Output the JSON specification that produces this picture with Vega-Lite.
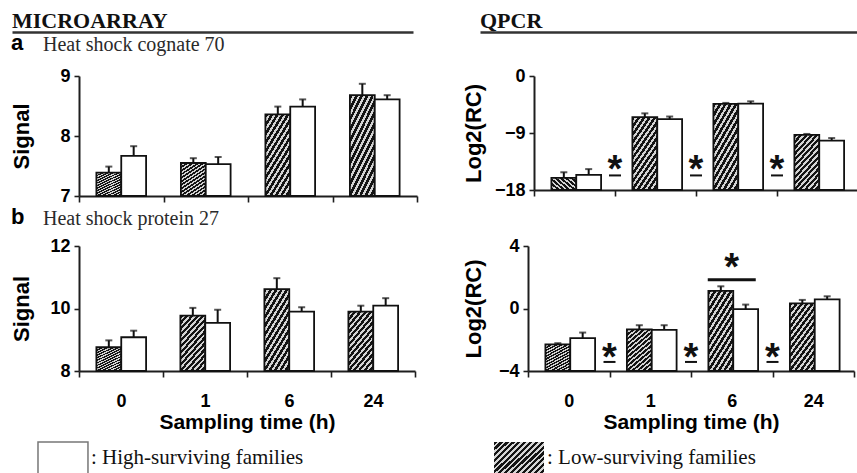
{
  "$schema": "https://vega.github.io/schema/vega-lite/v6.json",
  "padding": {"left": 10, "top": 9, "right": 0, "bottom": 0},
  "background": "white",
  "config": {
    "view": {"stroke": null},
    "axis": {
      "grid": false,
      "domainColor": "#1e1e1e",
      "domainWidth": 2,
      "tickColor": "#1e1e1e",
      "tickWidth": 1.6,
      "tickSize": 5,
      "labelFont": "Liberation Sans",
      "labelFontWeight": "bold",
      "labelFontSize": 18,
      "labelColor": "#000",
      "labelPadding": 4,
      "titleFont": "Liberation Sans",
      "titleFontWeight": "bold",
      "titleFontSize": 21,
      "titleColor": "#000"
    },
    "axisX": {"tickBand": "extent", "tickSize": 6, "labelAngle": 0, "labelPadding": 15, "titlePadding": 1},
    "axisY": {"format": "d", "titleFontSize": 22}
  },
  "datasets": {
    "bars": [
      {"panel": "A_arr", "time": "0", "group": "Low", "value": 7.39, "hi": 7.49},
      {"panel": "A_arr", "time": "0", "group": "High", "value": 7.67, "hi": 7.83},
      {"panel": "A_arr", "time": "1", "group": "Low", "value": 7.55, "hi": 7.63},
      {"panel": "A_arr", "time": "1", "group": "High", "value": 7.53, "hi": 7.65},
      {"panel": "A_arr", "time": "6", "group": "Low", "value": 8.36, "hi": 8.49},
      {"panel": "A_arr", "time": "6", "group": "High", "value": 8.49, "hi": 8.61},
      {"panel": "A_arr", "time": "24", "group": "Low", "value": 8.68, "hi": 8.87},
      {"panel": "A_arr", "time": "24", "group": "High", "value": 8.61, "hi": 8.68},
      {"panel": "A_pcr", "time": "0", "group": "Low", "value": -16.1, "hi": -15.2},
      {"panel": "A_pcr", "time": "0", "group": "High", "value": -15.6, "hi": -14.7},
      {"panel": "A_pcr", "time": "1", "group": "Low", "value": -6.5, "hi": -5.9},
      {"panel": "A_pcr", "time": "1", "group": "High", "value": -6.8, "hi": -6.4},
      {"panel": "A_pcr", "time": "6", "group": "Low", "value": -4.4, "hi": -4.25},
      {"panel": "A_pcr", "time": "6", "group": "High", "value": -4.35, "hi": -4.0},
      {"panel": "A_pcr", "time": "24", "group": "Low", "value": -9.3, "hi": -9.15},
      {"panel": "A_pcr", "time": "24", "group": "High", "value": -10.2, "hi": -9.8},
      {"panel": "B_arr", "time": "0", "group": "Low", "value": 8.76, "hi": 8.98},
      {"panel": "B_arr", "time": "0", "group": "High", "value": 9.08, "hi": 9.29},
      {"panel": "B_arr", "time": "1", "group": "Low", "value": 9.77, "hi": 10.02},
      {"panel": "B_arr", "time": "1", "group": "High", "value": 9.54, "hi": 9.96},
      {"panel": "B_arr", "time": "6", "group": "Low", "value": 10.62, "hi": 10.97},
      {"panel": "B_arr", "time": "6", "group": "High", "value": 9.9, "hi": 10.04},
      {"panel": "B_arr", "time": "24", "group": "Low", "value": 9.9, "hi": 10.09},
      {"panel": "B_arr", "time": "24", "group": "High", "value": 10.09, "hi": 10.33},
      {"panel": "B_pcr", "time": "0", "group": "Low", "value": -2.29, "hi": -2.22},
      {"panel": "B_pcr", "time": "0", "group": "High", "value": -1.9, "hi": -1.54},
      {"panel": "B_pcr", "time": "1", "group": "Low", "value": -1.33, "hi": -1.07},
      {"panel": "B_pcr", "time": "1", "group": "High", "value": -1.37, "hi": -1.07},
      {"panel": "B_pcr", "time": "6", "group": "Low", "value": 1.13, "hi": 1.42},
      {"panel": "B_pcr", "time": "6", "group": "High", "value": -0.04, "hi": 0.25},
      {"panel": "B_pcr", "time": "24", "group": "Low", "value": 0.33, "hi": 0.55},
      {"panel": "B_pcr", "time": "24", "group": "High", "value": 0.58, "hi": 0.78}
    ],
    "sig": [
      {"panel": "A_pcr", "time": "1", "kind": "between", "star": -13.4, "bar": -15.7},
      {"panel": "A_pcr", "time": "6", "kind": "between", "star": -13.4, "bar": -15.7},
      {"panel": "A_pcr", "time": "24", "kind": "between", "star": -13.4, "bar": -15.7},
      {"panel": "B_pcr", "time": "1", "kind": "between", "star": -2.6, "bar": -3.42},
      {"panel": "B_pcr", "time": "6", "kind": "between", "star": -2.6, "bar": -3.42},
      {"panel": "B_pcr", "time": "24", "kind": "between", "star": -2.6, "bar": -3.42},
      {"panel": "B_pcr", "time": "6", "kind": "over", "star": 3.16, "bar": 1.84}
    ],
    "legend": [
      {"group": "High", "label": ": High-surviving families"},
      {"group": "Low", "label": ": Low-surviving families"}
    ]
  },
  "columns": 1,
  "align": "none",
  "spacing": 9,
  "concat": [
    {
      "columns": 1,
      "align": "none",
      "spacing": 0,
      "concat": [
        {
          "spacing": -11,
          "hconcat": [
            {
              "width": 334,
              "height": 1,
              "data": {"values": [{"section": "MICROARRAY"}]},
              "mark": {"type": "text", "align": "left", "baseline": "alphabetic", "dy": -4, "font": "Liberation Serif", "fontWeight": "bold", "fontSize": 22, "color": "#111"},
              "encoding": {
                "x": {"field": "section", "type": "nominal", "bandPosition": 0, "scale": {"type": "band", "paddingInner": 0, "paddingOuter": 0, "range": [-67, 334]}, "axis": {"title": null, "labels": false, "ticks": false, "domainWidth": 2.5, "domainColor": "#333"}},
                "text": {"field": "section"}
              }
            },
            {
              "width": 387,
              "height": 1,
              "data": {"values": [{"section": "QPCR"}]},
              "mark": {"type": "text", "align": "left", "baseline": "alphabetic", "dy": -4, "font": "Liberation Serif", "fontWeight": "bold", "fontSize": 22, "color": "#111"},
              "encoding": {
                "x": {"field": "section", "type": "nominal", "bandPosition": 0, "scale": {"type": "band", "paddingInner": 0, "paddingOuter": 0}, "axis": {"title": null, "labels": false, "ticks": false, "domainWidth": 2.5, "domainColor": "#333"}},
                "text": {"field": "section"}
              }
            }
          ]
        },
        {
          "spacing": 44,
          "title": {"text": "a", "anchor": "start", "offset": -20.4, "font": "Liberation Sans", "fontWeight": "bold", "fontSize": 22, "color": "#000"},
          "hconcat": [
            {
              "width": 338,
              "height": 120,
              "title": {"text": "Heat shock cognate 70", "anchor": "start", "frame": "bounds", "dx": 32, "offset": 12, "font": "Liberation Serif", "fontWeight": "normal", "fontSize": 20, "color": "#2a2a2a"},
              "encoding": {
                "x": {"field": "time", "type": "nominal", "scale": {"domain": ["0", "1", "6", "24"], "paddingInner": 0, "paddingOuter": 0}, "axis": {"title": null, "labels": false}}
              },
              "layer": [
                {
                  "data": {"name": "bars"},
                  "transform": [{"filter": "datum.panel === 'A_arr' && datum.group === 'Low'"}],
                  "mark": {"type": "bar", "stroke": "#111", "strokeWidth": 1.8, "fill": {"gradient": "linear", "x1": 0, "y1": 0, "x2": 0.6, "y2": 1.2, "stops": [
                    {"offset": 0, "color": "#141414"}, {"offset": 0.0393, "color": "#141414"}, {"offset": 0.0393, "color": "#d4d4d4"}, {"offset": 0.0714, "color": "#d4d4d4"},
                    {"offset": 0.0714, "color": "#141414"}, {"offset": 0.1107, "color": "#141414"}, {"offset": 0.1107, "color": "#d4d4d4"}, {"offset": 0.1429, "color": "#d4d4d4"},
                    {"offset": 0.1429, "color": "#141414"}, {"offset": 0.1821, "color": "#141414"}, {"offset": 0.1821, "color": "#d4d4d4"}, {"offset": 0.2143, "color": "#d4d4d4"},
                    {"offset": 0.2143, "color": "#141414"}, {"offset": 0.2536, "color": "#141414"}, {"offset": 0.2536, "color": "#d4d4d4"}, {"offset": 0.2857, "color": "#d4d4d4"},
                    {"offset": 0.2857, "color": "#141414"}, {"offset": 0.325, "color": "#141414"}, {"offset": 0.325, "color": "#d4d4d4"}, {"offset": 0.3571, "color": "#d4d4d4"},
                    {"offset": 0.3571, "color": "#141414"}, {"offset": 0.3964, "color": "#141414"}, {"offset": 0.3964, "color": "#d4d4d4"}, {"offset": 0.4286, "color": "#d4d4d4"},
                    {"offset": 0.4286, "color": "#141414"}, {"offset": 0.4679, "color": "#141414"}, {"offset": 0.4679, "color": "#d4d4d4"}, {"offset": 0.5, "color": "#d4d4d4"},
                    {"offset": 0.5, "color": "#141414"}, {"offset": 0.5393, "color": "#141414"}, {"offset": 0.5393, "color": "#d4d4d4"}, {"offset": 0.5714, "color": "#d4d4d4"},
                    {"offset": 0.5714, "color": "#141414"}, {"offset": 0.6107, "color": "#141414"}, {"offset": 0.6107, "color": "#d4d4d4"}, {"offset": 0.6429, "color": "#d4d4d4"},
                    {"offset": 0.6429, "color": "#141414"}, {"offset": 0.6821, "color": "#141414"}, {"offset": 0.6821, "color": "#d4d4d4"}, {"offset": 0.7143, "color": "#d4d4d4"},
                    {"offset": 0.7143, "color": "#141414"}, {"offset": 0.7536, "color": "#141414"}, {"offset": 0.7536, "color": "#d4d4d4"}, {"offset": 0.7857, "color": "#d4d4d4"},
                    {"offset": 0.7857, "color": "#141414"}, {"offset": 0.825, "color": "#141414"}, {"offset": 0.825, "color": "#d4d4d4"}, {"offset": 0.8571, "color": "#d4d4d4"},
                    {"offset": 0.8571, "color": "#141414"}, {"offset": 0.8964, "color": "#141414"}, {"offset": 0.8964, "color": "#d4d4d4"}, {"offset": 0.9286, "color": "#d4d4d4"},
                    {"offset": 0.9286, "color": "#141414"}, {"offset": 0.9679, "color": "#141414"}, {"offset": 0.9679, "color": "#d4d4d4"}, {"offset": 1, "color": "#d4d4d4"}
                  ]}},
                  "encoding": {
                    "xOffset": {"field": "group", "type": "nominal", "scale": {"domain": ["Low", "High"], "paddingInner": 0, "paddingOuter": 0.7}},
                    "y": {"field": "value", "type": "quantitative", "scale": {"domain": [7, 9], "nice": false, "zero": false}, "axis": {"values": [7, 8, 9], "title": "Signal", "titlePadding": 26}},
                    "y2": {"datum": 7}
                  }
                },
                {
                  "data": {"name": "bars"},
                  "transform": [{"filter": "datum.panel === 'A_arr' && datum.group === 'High'"}],
                  "mark": {"type": "bar", "fill": "white", "stroke": "#111", "strokeWidth": 1.8},
                  "encoding": {
                    "xOffset": {"field": "group", "type": "nominal", "scale": {"domain": ["Low", "High"], "paddingInner": 0, "paddingOuter": 0.7}},
                    "y": {"field": "value", "type": "quantitative", "scale": {"domain": [7, 9], "nice": false, "zero": false}},
                    "y2": {"datum": 7}
                  }
                },
                {
                  "data": {"name": "bars"},
                  "transform": [{"filter": "datum.panel === 'A_arr'"}],
                  "mark": {"type": "rule", "strokeWidth": 2, "color": "#111"},
                  "encoding": {
                    "xOffset": {"field": "group", "type": "nominal", "scale": {"domain": ["Low", "High"], "paddingInner": 0, "paddingOuter": 0.7}},
                    "y": {"field": "value", "type": "quantitative", "scale": {"domain": [7, 9], "nice": false, "zero": false}},
                    "y2": {"field": "hi"}
                  }
                },
                {
                  "data": {"name": "bars"},
                  "transform": [{"filter": "datum.panel === 'A_arr'"}],
                  "mark": {"type": "tick", "size": 7, "thickness": 2, "color": "#111"},
                  "encoding": {
                    "xOffset": {"field": "group", "type": "nominal", "scale": {"domain": ["Low", "High"], "paddingInner": 0, "paddingOuter": 0.7}},
                    "y": {"field": "hi", "type": "quantitative", "scale": {"domain": [7, 9], "nice": false, "zero": false}}
                  }
                }
              ]
            },
            {
              "width": 324,
              "height": 114,
              "encoding": {
                "x": {"field": "time", "type": "nominal", "scale": {"domain": ["0", "1", "6", "24"], "paddingInner": 0, "paddingOuter": 0}, "axis": {"title": null, "labels": false}}
              },
              "layer": [
                {
                  "data": {"name": "bars"},
                  "transform": [{"filter": "datum.panel === 'A_pcr' && datum.group === 'Low'"}],
                  "mark": {"type": "bar", "stroke": "#111", "strokeWidth": 1.8, "fill": {"gradient": "linear", "x1": 0, "y1": 0, "x2": 0.6, "y2": 1.2, "stops": [
                    {"offset": 0, "color": "#141414"}, {"offset": 0.0393, "color": "#141414"}, {"offset": 0.0393, "color": "#d4d4d4"}, {"offset": 0.0714, "color": "#d4d4d4"},
                    {"offset": 0.0714, "color": "#141414"}, {"offset": 0.1107, "color": "#141414"}, {"offset": 0.1107, "color": "#d4d4d4"}, {"offset": 0.1429, "color": "#d4d4d4"},
                    {"offset": 0.1429, "color": "#141414"}, {"offset": 0.1821, "color": "#141414"}, {"offset": 0.1821, "color": "#d4d4d4"}, {"offset": 0.2143, "color": "#d4d4d4"},
                    {"offset": 0.2143, "color": "#141414"}, {"offset": 0.2536, "color": "#141414"}, {"offset": 0.2536, "color": "#d4d4d4"}, {"offset": 0.2857, "color": "#d4d4d4"},
                    {"offset": 0.2857, "color": "#141414"}, {"offset": 0.325, "color": "#141414"}, {"offset": 0.325, "color": "#d4d4d4"}, {"offset": 0.3571, "color": "#d4d4d4"},
                    {"offset": 0.3571, "color": "#141414"}, {"offset": 0.3964, "color": "#141414"}, {"offset": 0.3964, "color": "#d4d4d4"}, {"offset": 0.4286, "color": "#d4d4d4"},
                    {"offset": 0.4286, "color": "#141414"}, {"offset": 0.4679, "color": "#141414"}, {"offset": 0.4679, "color": "#d4d4d4"}, {"offset": 0.5, "color": "#d4d4d4"},
                    {"offset": 0.5, "color": "#141414"}, {"offset": 0.5393, "color": "#141414"}, {"offset": 0.5393, "color": "#d4d4d4"}, {"offset": 0.5714, "color": "#d4d4d4"},
                    {"offset": 0.5714, "color": "#141414"}, {"offset": 0.6107, "color": "#141414"}, {"offset": 0.6107, "color": "#d4d4d4"}, {"offset": 0.6429, "color": "#d4d4d4"},
                    {"offset": 0.6429, "color": "#141414"}, {"offset": 0.6821, "color": "#141414"}, {"offset": 0.6821, "color": "#d4d4d4"}, {"offset": 0.7143, "color": "#d4d4d4"},
                    {"offset": 0.7143, "color": "#141414"}, {"offset": 0.7536, "color": "#141414"}, {"offset": 0.7536, "color": "#d4d4d4"}, {"offset": 0.7857, "color": "#d4d4d4"},
                    {"offset": 0.7857, "color": "#141414"}, {"offset": 0.825, "color": "#141414"}, {"offset": 0.825, "color": "#d4d4d4"}, {"offset": 0.8571, "color": "#d4d4d4"},
                    {"offset": 0.8571, "color": "#141414"}, {"offset": 0.8964, "color": "#141414"}, {"offset": 0.8964, "color": "#d4d4d4"}, {"offset": 0.9286, "color": "#d4d4d4"},
                    {"offset": 0.9286, "color": "#141414"}, {"offset": 0.9679, "color": "#141414"}, {"offset": 0.9679, "color": "#d4d4d4"}, {"offset": 1, "color": "#d4d4d4"}
                  ]}},
                  "encoding": {
                    "xOffset": {"field": "group", "type": "nominal", "scale": {"domain": ["Low", "High"], "paddingInner": 0, "paddingOuter": 0.7}},
                    "y": {"field": "value", "type": "quantitative", "scale": {"domain": [-18, 0], "nice": false, "zero": false}, "axis": {"values": [-18, -9, 0], "title": "Log2(RC)", "titlePadding": 9}},
                    "y2": {"datum": -18}
                  }
                },
                {
                  "data": {"name": "bars"},
                  "transform": [{"filter": "datum.panel === 'A_pcr' && datum.group === 'High'"}],
                  "mark": {"type": "bar", "fill": "white", "stroke": "#111", "strokeWidth": 1.8},
                  "encoding": {
                    "xOffset": {"field": "group", "type": "nominal", "scale": {"domain": ["Low", "High"], "paddingInner": 0, "paddingOuter": 0.7}},
                    "y": {"field": "value", "type": "quantitative", "scale": {"domain": [-18, 0], "nice": false, "zero": false}},
                    "y2": {"datum": -18}
                  }
                },
                {
                  "data": {"name": "bars"},
                  "transform": [{"filter": "datum.panel === 'A_pcr'"}],
                  "mark": {"type": "rule", "strokeWidth": 2, "color": "#111"},
                  "encoding": {
                    "xOffset": {"field": "group", "type": "nominal", "scale": {"domain": ["Low", "High"], "paddingInner": 0, "paddingOuter": 0.7}},
                    "y": {"field": "value", "type": "quantitative", "scale": {"domain": [-18, 0], "nice": false, "zero": false}},
                    "y2": {"field": "hi"}
                  }
                },
                {
                  "data": {"name": "bars"},
                  "transform": [{"filter": "datum.panel === 'A_pcr'"}],
                  "mark": {"type": "tick", "size": 7, "thickness": 2, "color": "#111"},
                  "encoding": {
                    "xOffset": {"field": "group", "type": "nominal", "scale": {"domain": ["Low", "High"], "paddingInner": 0, "paddingOuter": 0.7}},
                    "y": {"field": "hi", "type": "quantitative", "scale": {"domain": [-18, 0], "nice": false, "zero": false}}
                  }
                },
                {
                  "data": {"name": "sig"},
                  "transform": [{"filter": "datum.panel === 'A_pcr'"}],
                  "mark": {"type": "text", "text": "*", "font": "Liberation Sans", "fontWeight": "bold", "fontSize": 38, "baseline": "alphabetic", "dy": 21, "color": "#111"},
                  "encoding": {
                    "x": {"field": "time", "type": "nominal", "bandPosition": 0},
                    "y": {"field": "star", "type": "quantitative", "scale": {"domain": [-18, 0], "nice": false, "zero": false}}
                  }
                },
                {
                  "data": {"name": "sig"},
                  "transform": [{"filter": "datum.panel === 'A_pcr'"}],
                  "mark": {"type": "point", "shape": "M-1,0L1,0", "filled": false, "size": 144, "strokeWidth": 2, "color": "#111", "opacity": 1},
                  "encoding": {
                    "x": {"field": "time", "type": "nominal", "bandPosition": 0},
                    "y": {"field": "bar", "type": "quantitative", "scale": {"domain": [-18, 0], "nice": false, "zero": false}}
                  }
                }
              ]
            }
          ]
        },
        {
          "spacing": 46,
          "title": {"text": "b", "anchor": "start", "offset": -20.4, "font": "Liberation Sans", "fontWeight": "bold", "fontSize": 22, "color": "#000"},
          "hconcat": [
            {
              "width": 336,
              "height": 125,
              "title": {"text": "Heat shock protein 27", "anchor": "start", "frame": "bounds", "dx": 32, "offset": 8.5, "font": "Liberation Serif", "fontWeight": "normal", "fontSize": 20, "color": "#2a2a2a"},
              "encoding": {
                "x": {"field": "time", "type": "nominal", "scale": {"domain": ["0", "1", "6", "24"], "paddingInner": 0, "paddingOuter": 0}, "axis": {"title": "Sampling time (h)"}}
              },
              "layer": [
                {
                  "data": {"name": "bars"},
                  "transform": [{"filter": "datum.panel === 'B_arr' && datum.group === 'Low'"}],
                  "mark": {"type": "bar", "stroke": "#111", "strokeWidth": 1.8, "fill": {"gradient": "linear", "x1": 0, "y1": 0, "x2": 0.6, "y2": 1.2, "stops": [
                    {"offset": 0, "color": "#141414"}, {"offset": 0.0393, "color": "#141414"}, {"offset": 0.0393, "color": "#d4d4d4"}, {"offset": 0.0714, "color": "#d4d4d4"},
                    {"offset": 0.0714, "color": "#141414"}, {"offset": 0.1107, "color": "#141414"}, {"offset": 0.1107, "color": "#d4d4d4"}, {"offset": 0.1429, "color": "#d4d4d4"},
                    {"offset": 0.1429, "color": "#141414"}, {"offset": 0.1821, "color": "#141414"}, {"offset": 0.1821, "color": "#d4d4d4"}, {"offset": 0.2143, "color": "#d4d4d4"},
                    {"offset": 0.2143, "color": "#141414"}, {"offset": 0.2536, "color": "#141414"}, {"offset": 0.2536, "color": "#d4d4d4"}, {"offset": 0.2857, "color": "#d4d4d4"},
                    {"offset": 0.2857, "color": "#141414"}, {"offset": 0.325, "color": "#141414"}, {"offset": 0.325, "color": "#d4d4d4"}, {"offset": 0.3571, "color": "#d4d4d4"},
                    {"offset": 0.3571, "color": "#141414"}, {"offset": 0.3964, "color": "#141414"}, {"offset": 0.3964, "color": "#d4d4d4"}, {"offset": 0.4286, "color": "#d4d4d4"},
                    {"offset": 0.4286, "color": "#141414"}, {"offset": 0.4679, "color": "#141414"}, {"offset": 0.4679, "color": "#d4d4d4"}, {"offset": 0.5, "color": "#d4d4d4"},
                    {"offset": 0.5, "color": "#141414"}, {"offset": 0.5393, "color": "#141414"}, {"offset": 0.5393, "color": "#d4d4d4"}, {"offset": 0.5714, "color": "#d4d4d4"},
                    {"offset": 0.5714, "color": "#141414"}, {"offset": 0.6107, "color": "#141414"}, {"offset": 0.6107, "color": "#d4d4d4"}, {"offset": 0.6429, "color": "#d4d4d4"},
                    {"offset": 0.6429, "color": "#141414"}, {"offset": 0.6821, "color": "#141414"}, {"offset": 0.6821, "color": "#d4d4d4"}, {"offset": 0.7143, "color": "#d4d4d4"},
                    {"offset": 0.7143, "color": "#141414"}, {"offset": 0.7536, "color": "#141414"}, {"offset": 0.7536, "color": "#d4d4d4"}, {"offset": 0.7857, "color": "#d4d4d4"},
                    {"offset": 0.7857, "color": "#141414"}, {"offset": 0.825, "color": "#141414"}, {"offset": 0.825, "color": "#d4d4d4"}, {"offset": 0.8571, "color": "#d4d4d4"},
                    {"offset": 0.8571, "color": "#141414"}, {"offset": 0.8964, "color": "#141414"}, {"offset": 0.8964, "color": "#d4d4d4"}, {"offset": 0.9286, "color": "#d4d4d4"},
                    {"offset": 0.9286, "color": "#141414"}, {"offset": 0.9679, "color": "#141414"}, {"offset": 0.9679, "color": "#d4d4d4"}, {"offset": 1, "color": "#d4d4d4"}
                  ]}},
                  "encoding": {
                    "xOffset": {"field": "group", "type": "nominal", "scale": {"domain": ["Low", "High"], "paddingInner": 0, "paddingOuter": 0.7}},
                    "y": {"field": "value", "type": "quantitative", "scale": {"domain": [8, 12], "nice": false, "zero": false}, "axis": {"values": [8, 10, 12], "title": "Signal", "titlePadding": 16}},
                    "y2": {"datum": 8}
                  }
                },
                {
                  "data": {"name": "bars"},
                  "transform": [{"filter": "datum.panel === 'B_arr' && datum.group === 'High'"}],
                  "mark": {"type": "bar", "fill": "white", "stroke": "#111", "strokeWidth": 1.8},
                  "encoding": {
                    "xOffset": {"field": "group", "type": "nominal", "scale": {"domain": ["Low", "High"], "paddingInner": 0, "paddingOuter": 0.7}},
                    "y": {"field": "value", "type": "quantitative", "scale": {"domain": [8, 12], "nice": false, "zero": false}},
                    "y2": {"datum": 8}
                  }
                },
                {
                  "data": {"name": "bars"},
                  "transform": [{"filter": "datum.panel === 'B_arr'"}],
                  "mark": {"type": "rule", "strokeWidth": 2, "color": "#111"},
                  "encoding": {
                    "xOffset": {"field": "group", "type": "nominal", "scale": {"domain": ["Low", "High"], "paddingInner": 0, "paddingOuter": 0.7}},
                    "y": {"field": "value", "type": "quantitative", "scale": {"domain": [8, 12], "nice": false, "zero": false}},
                    "y2": {"field": "hi"}
                  }
                },
                {
                  "data": {"name": "bars"},
                  "transform": [{"filter": "datum.panel === 'B_arr'"}],
                  "mark": {"type": "tick", "size": 7, "thickness": 2, "color": "#111"},
                  "encoding": {
                    "xOffset": {"field": "group", "type": "nominal", "scale": {"domain": ["Low", "High"], "paddingInner": 0, "paddingOuter": 0.7}},
                    "y": {"field": "hi", "type": "quantitative", "scale": {"domain": [8, 12], "nice": false, "zero": false}}
                  }
                }
              ]
            },
            {
              "width": 326,
              "height": 125,
              "encoding": {
                "x": {"field": "time", "type": "nominal", "scale": {"domain": ["0", "1", "6", "24"], "paddingInner": 0, "paddingOuter": 0}, "axis": {"title": "Sampling time (h)"}}
              },
              "layer": [
                {
                  "data": {"name": "bars"},
                  "transform": [{"filter": "datum.panel === 'B_pcr' && datum.group === 'Low'"}],
                  "mark": {"type": "bar", "stroke": "#111", "strokeWidth": 1.8, "fill": {"gradient": "linear", "x1": 0, "y1": 0, "x2": 0.6, "y2": 1.2, "stops": [
                    {"offset": 0, "color": "#141414"}, {"offset": 0.0393, "color": "#141414"}, {"offset": 0.0393, "color": "#d4d4d4"}, {"offset": 0.0714, "color": "#d4d4d4"},
                    {"offset": 0.0714, "color": "#141414"}, {"offset": 0.1107, "color": "#141414"}, {"offset": 0.1107, "color": "#d4d4d4"}, {"offset": 0.1429, "color": "#d4d4d4"},
                    {"offset": 0.1429, "color": "#141414"}, {"offset": 0.1821, "color": "#141414"}, {"offset": 0.1821, "color": "#d4d4d4"}, {"offset": 0.2143, "color": "#d4d4d4"},
                    {"offset": 0.2143, "color": "#141414"}, {"offset": 0.2536, "color": "#141414"}, {"offset": 0.2536, "color": "#d4d4d4"}, {"offset": 0.2857, "color": "#d4d4d4"},
                    {"offset": 0.2857, "color": "#141414"}, {"offset": 0.325, "color": "#141414"}, {"offset": 0.325, "color": "#d4d4d4"}, {"offset": 0.3571, "color": "#d4d4d4"},
                    {"offset": 0.3571, "color": "#141414"}, {"offset": 0.3964, "color": "#141414"}, {"offset": 0.3964, "color": "#d4d4d4"}, {"offset": 0.4286, "color": "#d4d4d4"},
                    {"offset": 0.4286, "color": "#141414"}, {"offset": 0.4679, "color": "#141414"}, {"offset": 0.4679, "color": "#d4d4d4"}, {"offset": 0.5, "color": "#d4d4d4"},
                    {"offset": 0.5, "color": "#141414"}, {"offset": 0.5393, "color": "#141414"}, {"offset": 0.5393, "color": "#d4d4d4"}, {"offset": 0.5714, "color": "#d4d4d4"},
                    {"offset": 0.5714, "color": "#141414"}, {"offset": 0.6107, "color": "#141414"}, {"offset": 0.6107, "color": "#d4d4d4"}, {"offset": 0.6429, "color": "#d4d4d4"},
                    {"offset": 0.6429, "color": "#141414"}, {"offset": 0.6821, "color": "#141414"}, {"offset": 0.6821, "color": "#d4d4d4"}, {"offset": 0.7143, "color": "#d4d4d4"},
                    {"offset": 0.7143, "color": "#141414"}, {"offset": 0.7536, "color": "#141414"}, {"offset": 0.7536, "color": "#d4d4d4"}, {"offset": 0.7857, "color": "#d4d4d4"},
                    {"offset": 0.7857, "color": "#141414"}, {"offset": 0.825, "color": "#141414"}, {"offset": 0.825, "color": "#d4d4d4"}, {"offset": 0.8571, "color": "#d4d4d4"},
                    {"offset": 0.8571, "color": "#141414"}, {"offset": 0.8964, "color": "#141414"}, {"offset": 0.8964, "color": "#d4d4d4"}, {"offset": 0.9286, "color": "#d4d4d4"},
                    {"offset": 0.9286, "color": "#141414"}, {"offset": 0.9679, "color": "#141414"}, {"offset": 0.9679, "color": "#d4d4d4"}, {"offset": 1, "color": "#d4d4d4"}
                  ]}},
                  "encoding": {
                    "xOffset": {"field": "group", "type": "nominal", "scale": {"domain": ["Low", "High"], "paddingInner": 0, "paddingOuter": 0.7}},
                    "y": {"field": "value", "type": "quantitative", "scale": {"domain": [-4, 4], "nice": false, "zero": false}, "axis": {"values": [-4, 0, 4], "title": "Log2(RC)", "titlePadding": 13}},
                    "y2": {"datum": -4}
                  }
                },
                {
                  "data": {"name": "bars"},
                  "transform": [{"filter": "datum.panel === 'B_pcr' && datum.group === 'High'"}],
                  "mark": {"type": "bar", "fill": "white", "stroke": "#111", "strokeWidth": 1.8},
                  "encoding": {
                    "xOffset": {"field": "group", "type": "nominal", "scale": {"domain": ["Low", "High"], "paddingInner": 0, "paddingOuter": 0.7}},
                    "y": {"field": "value", "type": "quantitative", "scale": {"domain": [-4, 4], "nice": false, "zero": false}},
                    "y2": {"datum": -4}
                  }
                },
                {
                  "data": {"name": "bars"},
                  "transform": [{"filter": "datum.panel === 'B_pcr'"}],
                  "mark": {"type": "rule", "strokeWidth": 2, "color": "#111"},
                  "encoding": {
                    "xOffset": {"field": "group", "type": "nominal", "scale": {"domain": ["Low", "High"], "paddingInner": 0, "paddingOuter": 0.7}},
                    "y": {"field": "value", "type": "quantitative", "scale": {"domain": [-4, 4], "nice": false, "zero": false}},
                    "y2": {"field": "hi"}
                  }
                },
                {
                  "data": {"name": "bars"},
                  "transform": [{"filter": "datum.panel === 'B_pcr'"}],
                  "mark": {"type": "tick", "size": 7, "thickness": 2, "color": "#111"},
                  "encoding": {
                    "xOffset": {"field": "group", "type": "nominal", "scale": {"domain": ["Low", "High"], "paddingInner": 0, "paddingOuter": 0.7}},
                    "y": {"field": "hi", "type": "quantitative", "scale": {"domain": [-4, 4], "nice": false, "zero": false}}
                  }
                },
                {
                  "data": {"name": "sig"},
                  "transform": [{"filter": "datum.panel === 'B_pcr' && datum.kind === 'between'"}],
                  "mark": {"type": "text", "text": "*", "font": "Liberation Sans", "fontWeight": "bold", "fontSize": 38, "baseline": "alphabetic", "dy": 21, "color": "#111"},
                  "encoding": {
                    "x": {"field": "time", "type": "nominal", "bandPosition": 0},
                    "y": {"field": "star", "type": "quantitative", "scale": {"domain": [-4, 4], "nice": false, "zero": false}}
                  }
                },
                {
                  "data": {"name": "sig"},
                  "transform": [{"filter": "datum.panel === 'B_pcr' && datum.kind === 'between'"}],
                  "mark": {"type": "point", "shape": "M-1,0L1,0", "filled": false, "size": 144, "strokeWidth": 2, "color": "#111", "opacity": 1},
                  "encoding": {
                    "x": {"field": "time", "type": "nominal", "bandPosition": 0},
                    "y": {"field": "bar", "type": "quantitative", "scale": {"domain": [-4, 4], "nice": false, "zero": false}}
                  }
                },
                {
                  "data": {"name": "sig"},
                  "transform": [{"filter": "datum.panel === 'B_pcr' && datum.kind === 'over'"}],
                  "mark": {"type": "text", "text": "*", "font": "Liberation Sans", "fontWeight": "bold", "fontSize": 38, "baseline": "alphabetic", "dy": 21, "color": "#111"},
                  "encoding": {
                    "x": {"field": "time", "type": "nominal", "bandPosition": 0.5},
                    "y": {"field": "star", "type": "quantitative", "scale": {"domain": [-4, 4], "nice": false, "zero": false}}
                  }
                },
                {
                  "data": {"name": "sig"},
                  "transform": [{"filter": "datum.panel === 'B_pcr' && datum.kind === 'over'"}],
                  "mark": {"type": "point", "shape": "M-1,0L1,0", "filled": false, "size": 2304, "strokeWidth": 3, "color": "#111", "opacity": 1},
                  "encoding": {
                    "x": {"field": "time", "type": "nominal", "bandPosition": 0.5},
                    "y": {"field": "bar", "type": "quantitative", "scale": {"domain": [-4, 4], "nice": false, "zero": false}}
                  }
                }
              ]
            }
          ]
        }
      ]
    },
    {
      "width": 491,
      "height": 32,
      "data": {"name": "legend"},
      "encoding": {
        "x": {"field": "group", "type": "nominal", "scale": {"type": "band", "domain": ["High", "Low"], "paddingInner": 0.8904, "paddingOuter": 0.057, "range": [-67, 491]}, "axis": null}
      },
      "layer": [
        {
          "transform": [{"filter": "datum.group === 'High'"}],
          "mark": {"type": "rect", "fill": "white", "stroke": "#777", "strokeWidth": 1.5}
        },
        {
          "transform": [{"filter": "datum.group === 'Low'"}],
          "mark": {"type": "rect", "fill": {"gradient": "linear", "x1": 0, "y1": 0, "x2": 1.156, "y2": 0.763, "stops": [
            {"offset": 0, "color": "#141414"}, {"offset": 0.0393, "color": "#141414"}, {"offset": 0.0393, "color": "#d4d4d4"}, {"offset": 0.0714, "color": "#d4d4d4"},
            {"offset": 0.0714, "color": "#141414"}, {"offset": 0.1107, "color": "#141414"}, {"offset": 0.1107, "color": "#d4d4d4"}, {"offset": 0.1429, "color": "#d4d4d4"},
            {"offset": 0.1429, "color": "#141414"}, {"offset": 0.1821, "color": "#141414"}, {"offset": 0.1821, "color": "#d4d4d4"}, {"offset": 0.2143, "color": "#d4d4d4"},
            {"offset": 0.2143, "color": "#141414"}, {"offset": 0.2536, "color": "#141414"}, {"offset": 0.2536, "color": "#d4d4d4"}, {"offset": 0.2857, "color": "#d4d4d4"},
            {"offset": 0.2857, "color": "#141414"}, {"offset": 0.325, "color": "#141414"}, {"offset": 0.325, "color": "#d4d4d4"}, {"offset": 0.3571, "color": "#d4d4d4"},
            {"offset": 0.3571, "color": "#141414"}, {"offset": 0.3964, "color": "#141414"}, {"offset": 0.3964, "color": "#d4d4d4"}, {"offset": 0.4286, "color": "#d4d4d4"},
            {"offset": 0.4286, "color": "#141414"}, {"offset": 0.4679, "color": "#141414"}, {"offset": 0.4679, "color": "#d4d4d4"}, {"offset": 0.5, "color": "#d4d4d4"},
            {"offset": 0.5, "color": "#141414"}, {"offset": 0.5393, "color": "#141414"}, {"offset": 0.5393, "color": "#d4d4d4"}, {"offset": 0.5714, "color": "#d4d4d4"},
            {"offset": 0.5714, "color": "#141414"}, {"offset": 0.6107, "color": "#141414"}, {"offset": 0.6107, "color": "#d4d4d4"}, {"offset": 0.6429, "color": "#d4d4d4"},
            {"offset": 0.6429, "color": "#141414"}, {"offset": 0.6821, "color": "#141414"}, {"offset": 0.6821, "color": "#d4d4d4"}, {"offset": 0.7143, "color": "#d4d4d4"},
            {"offset": 0.7143, "color": "#141414"}, {"offset": 0.7536, "color": "#141414"}, {"offset": 0.7536, "color": "#d4d4d4"}, {"offset": 0.7857, "color": "#d4d4d4"},
            {"offset": 0.7857, "color": "#141414"}, {"offset": 0.825, "color": "#141414"}, {"offset": 0.825, "color": "#d4d4d4"}, {"offset": 0.8571, "color": "#d4d4d4"},
            {"offset": 0.8571, "color": "#141414"}, {"offset": 0.8964, "color": "#141414"}, {"offset": 0.8964, "color": "#d4d4d4"}, {"offset": 0.9286, "color": "#d4d4d4"},
            {"offset": 0.9286, "color": "#141414"}, {"offset": 0.9679, "color": "#141414"}, {"offset": 0.9679, "color": "#d4d4d4"}, {"offset": 1, "color": "#d4d4d4"}
          ]}}
        },
        {
          "mark": {"type": "text", "align": "left", "baseline": "middle", "dx": 3, "font": "Liberation Serif", "fontSize": 21, "color": "#111"},
          "encoding": {
            "x": {"field": "group", "type": "nominal", "bandPosition": 1},
            "text": {"field": "label"}
          }
        }
      ]
    }
  ]
}
